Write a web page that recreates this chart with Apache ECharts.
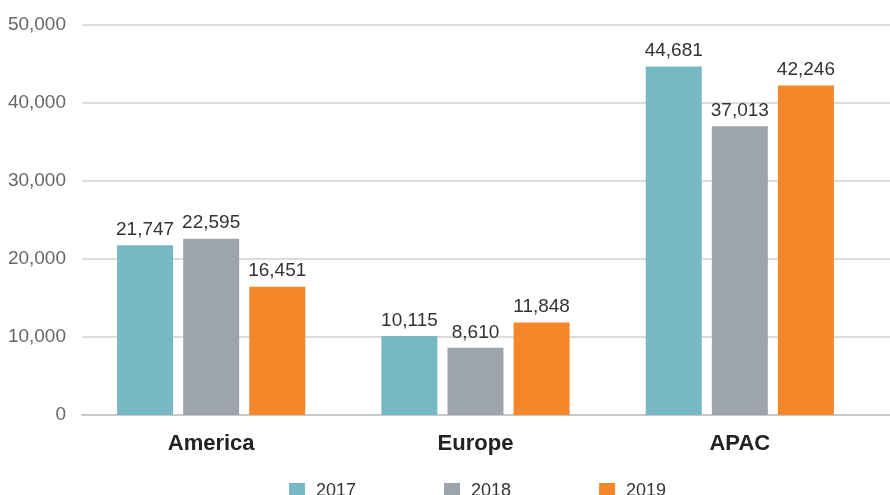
<!DOCTYPE html>
<html>
<head>
<meta charset="utf-8">
<script src="https://cdn.jsdelivr.net/npm/echarts@6/dist/echarts.min.js"></script>
<style>html,body{margin:0;padding:0;background:#fff}#c{width:890px;height:495px}</style>
</head>
<body>
<div id="c"></div>
<script>
const categories = ['America', 'Europe', 'APAC'];
const seriesNames = ['2017', '2018', '2019'];
const values2017 = [21747, 10115, 44681];
const values2018 = [22595, 8610, 37013];
const values2019 = [16451, 11848, 42246];
const yTicks = [0, 10000, 20000, 30000, 40000, 50000];

const colors = ['#76b9c4', '#9ea4ab', '#f5862a'];
const font = '"Liberation Sans", Arial, sans-serif';
const fmt = v => v.toLocaleString('en-US');

const chart = echarts.init(document.getElementById('c'), null, {renderer: 'canvas'});
const dataSets = [values2017, values2018, values2019];
const yMin = yTicks[0], yMax = yTicks[yTicks.length - 1];
chart.setOption({
  animation: false,
  color: colors,
  textStyle: {fontFamily: font},
  grid: [
    {left: 82, right: 0, top: 25, bottom: 80, containLabel: false},
    {left: 79, right: 18, top: 25, bottom: 80, containLabel: false}
  ],
  legend: {
    top: 482, left: 289, padding: 0,
    itemWidth: 16, itemHeight: 16, itemGap: 88,
    icon: 'rect',
    textStyle: {fontSize: 18, color: '#333', fontFamily: font, padding: [0, 0, 0, 6]},
    data: seriesNames
  },
  xAxis: [
    {
      type: 'category', gridIndex: 0,
      data: categories,
      axisLine: {lineStyle: {color: '#c8c8c8', width: 2}},
      axisTick: {show: false},
      axisLabel: {show: false}
    },
    {
      type: 'category', gridIndex: 1,
      data: categories,
      axisLine: {show: false},
      axisTick: {show: false},
      axisLabel: {fontSize: 22, fontWeight: 'bold', color: '#222', margin: 18, fontFamily: font}
    }
  ],
  yAxis: [
    {
      type: 'value', gridIndex: 0,
      min: yMin, max: yMax, interval: 10000,
      axisLine: {show: false},
      axisTick: {show: false},
      splitLine: {lineStyle: {color: '#d0d0d0', width: 1.5}},
      axisLabel: {fontSize: 19, color: '#666', margin: 16, fontFamily: font, formatter: v => fmt(v)}
    },
    {
      type: 'value', gridIndex: 1,
      min: yMin, max: yMax, interval: 10000,
      axisLine: {show: false}, axisTick: {show: false},
      splitLine: {show: false}, axisLabel: {show: false}
    }
  ],
  series: seriesNames.map((n, i) => ({
    name: n,
    type: 'bar',
    xAxisIndex: 1, yAxisIndex: 1,
    data: dataSets[i],
    barWidth: 56,
    barGap: '18%',
    label: {show: true, position: 'top', distance: 6, fontSize: 19, color: '#333', fontFamily: font, formatter: p => fmt(p.value)}
  }))
});
</script>
</body>
</html>
